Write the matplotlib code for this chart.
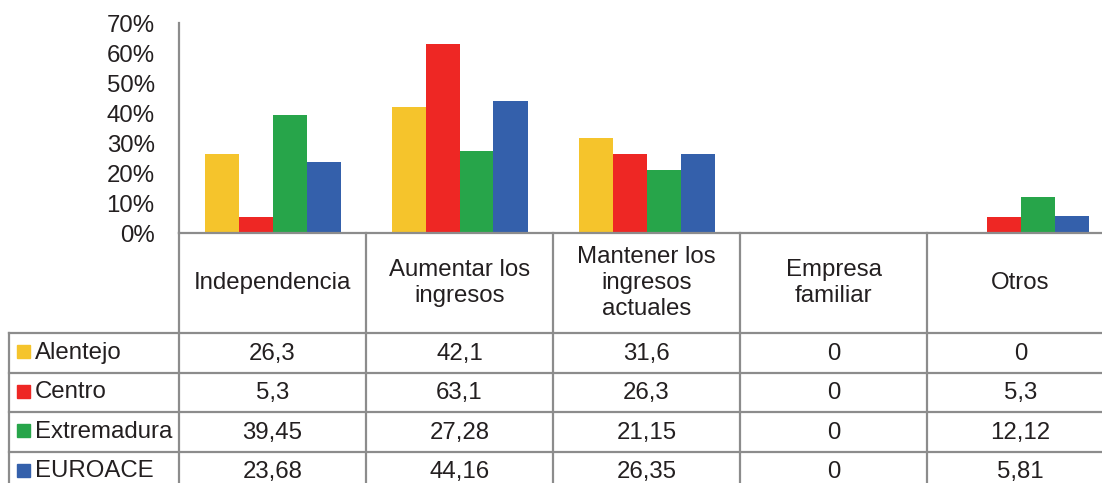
import matplotlib
matplotlib.use("Agg")
import matplotlib.pyplot as plt
import numpy as np

plt.rcParams['font.family'] = ['Liberation Sans', 'DejaVu Sans']

# data
categories = ["Independencia", "Aumentar los\ningresos", "Mantener los\ningresos\nactuales",
              "Empresa\nfamiliar", "Otros"]
regions = ["Alentejo", "Centro", "Extremadura", "EUROACE"]
alentejo = [26.3, 42.1, 31.6, 0, 0]
centro = [5.3, 63.1, 26.3, 0, 5.3]
extremadura = [39.45, 27.28, 21.15, 0, 12.12]
euroace = [23.68, 44.16, 26.35, 0, 5.81]
table_text = [["26,3", "42,1", "31,6", "0", "0"],
              ["5,3", "63,1", "26,3", "0", "5,3"],
              ["39,45", "27,28", "21,15", "0", "12,12"],
              ["23,68", "44,16", "26,35", "0", "5,81"]]
yticks = [0, 10, 20, 30, 40, 50, 60, 70]
colors = ["#F5C42C", "#EE2724", "#27A54A", "#3460AB"]

W, H = 1102, 483
fig = plt.figure(figsize=(W / 100, H / 100), dpi=100)
gray = "#8c8c8c"
fs = 17.3

# plot axes: x from 179 px, one column = 187 px, y 0..70 -> 233..23 px
x0, colw = 179, 187
ax = fig.add_axes([x0 / W, (H - 233) / H, 5 * colw / W, 210 / H])
ax.set_xlim(0, 5)
ax.set_ylim(0, 70)
series = [alentejo, centro, extremadura, euroace]
bw = 34 / colw
x = np.arange(len(categories)) + 0.5
for i, (vals, c) in enumerate(zip(series, colors)):
    ax.bar(x + (i - 1.5) * bw, vals, width=bw, color=c, edgecolor="none")
for s in ["top", "right", "bottom"]:
    ax.spines[s].set_visible(False)
ax.spines["left"].set_color(gray)
ax.spines["left"].set_linewidth(1.6)
ax.set_xticks([])
ax.set_yticks(yticks)
ax.set_yticklabels([f"{t}%" for t in yticks], fontsize=fs, color="#231f20")
ax.tick_params(axis="y", length=0, pad=17.5)

# table overlay in pixel coordinates
tb = fig.add_axes([0, 0, 1, 1])
tb.set_xlim(0, W)
tb.set_ylim(H, 0)
tb.axis("off")
lw = 1.6
col_edges = [x0 + k * colw for k in range(6)]
row_edges = [233, 333, 372.5, 412, 451.5, 491]
# horizontal lines
tb.plot([x0, W], [233, 233], color=gray, lw=lw)
for y in row_edges[1:]:
    tb.plot([9, W], [y, y], color=gray, lw=lw)
# vertical lines
tb.plot([9, 9], [row_edges[1], H], color=gray, lw=lw)
for xe in col_edges[:-1]:
    tb.plot([xe, xe], [233, H], color=gray, lw=lw)

txt = "#231f20"
for j, cat in enumerate(categories):
    cx = (col_edges[j] + col_edges[j + 1]) / 2
    tb.text(cx, 283, cat, ha="center", va="center", fontsize=fs, color=txt,
            linespacing=1.25)
for r, name in enumerate(regions):
    cy = (row_edges[r + 1] + row_edges[r + 2]) / 2
    tb.add_patch(plt.Rectangle((17, cy - 7.5), 13, 13, color=colors[r]))
    tb.text(35, cy, name, ha="left", va="center", fontsize=fs, color=txt)
    for j in range(len(categories)):
        cx = (col_edges[j] + col_edges[j + 1]) / 2
        tb.text(cx, cy + 1, table_text[r][j], ha="center", va="center",
                fontsize=fs, color=txt)

fig.savefig("out.png", dpi=100)
